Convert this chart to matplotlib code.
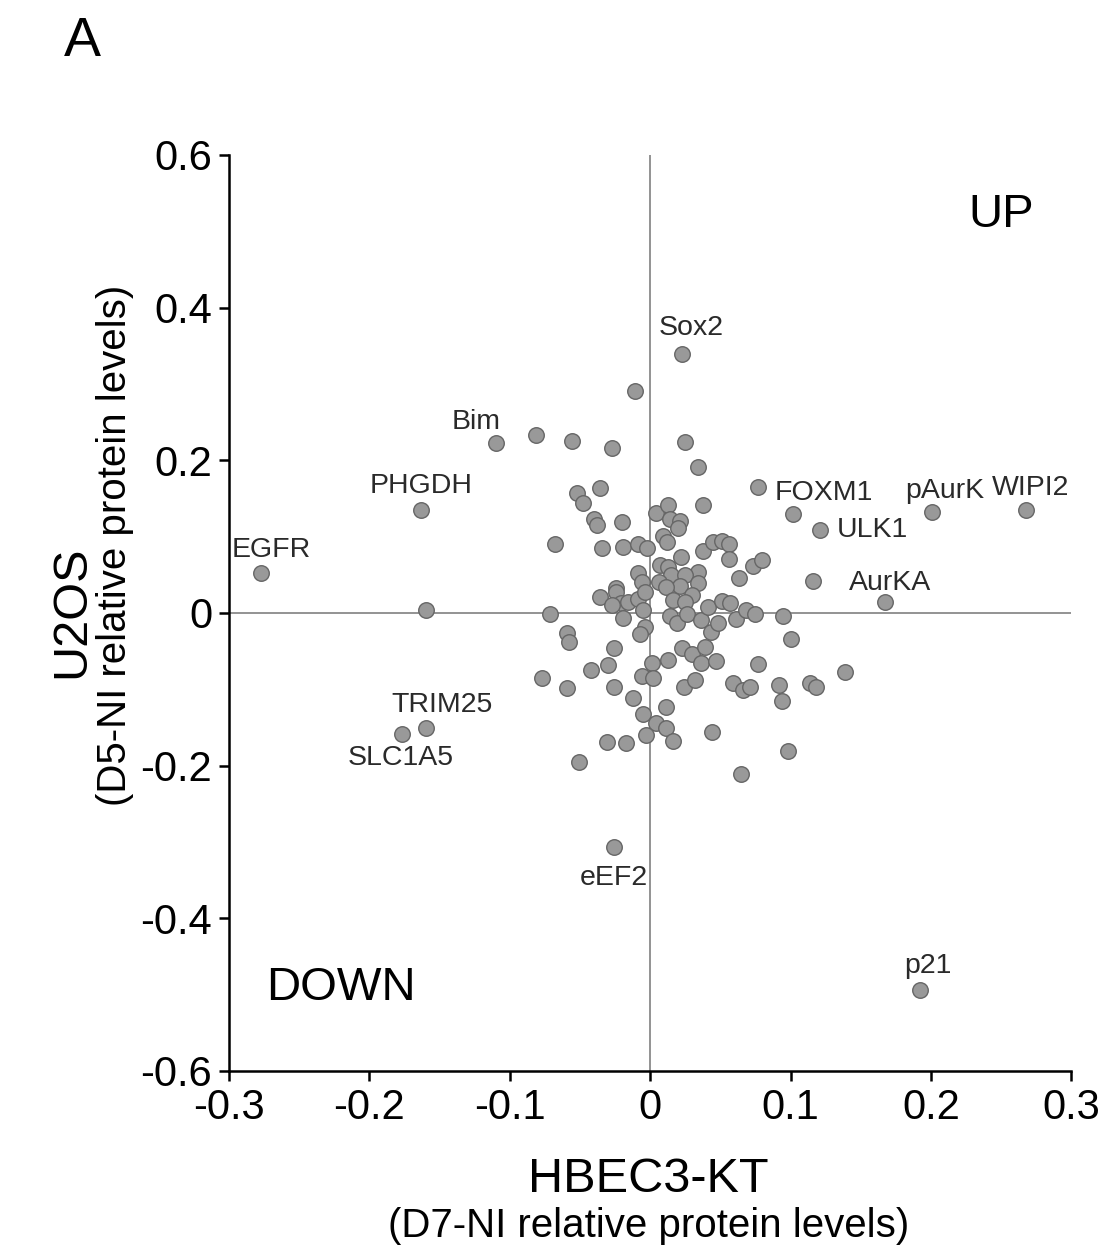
import matplotlib
matplotlib.use("Agg")
import matplotlib.pyplot as plt

plt.rcParams['font.family'] = ['Liberation Sans', 'DejaVu Sans']

# relative protein levels: HBEC3-KT (x) vs U2OS (y)
labels = ['Sox2', 'Bim', 'PHGDH', 'EGFR', 'TRIM25', 'SLC1A5', 'eEF2', 'p21',
          'FOXM1', 'ULK1', 'AurKA', 'pAurK', 'WIPI2']
label_x = [0.023, -0.110, -0.163, -0.277, -0.160, -0.177, -0.026, 0.192,
           0.077, 0.121, 0.167, 0.201, 0.268]
label_y = [0.339, 0.223, 0.135, 0.052, -0.151, -0.159, -0.307, -0.494,
           0.165, 0.109, 0.014, 0.132, 0.135]
# text offsets (points) for each named protein
label_dx = [6, -14, 0, 7, 12, -1, 0, 6, 12, 12, 4, 9, 3]
label_dy = [19, 15, 17, 17, 17, -17, -22, 17, -4, 0, 14, 15, 16]
label_ha = ['center', 'center', 'center', 'center', 'center', 'center', 'center',
            'center', 'left', 'left', 'center', 'center', 'center']

other_x = [-0.011, -0.081, -0.056, -0.027, 0.025, 0.034, -0.036, -0.052, -0.048,
           -0.020, -0.040, -0.038, -0.068, -0.034, -0.019, -0.009, -0.002, 0.004,
           0.013, 0.014, 0.021, 0.020, 0.009, 0.012, 0.022, 0.038, 0.038, 0.045,
           0.051, 0.056, 0.056, 0.073, 0.080, 0.063, 0.116, 0.034, 0.102, -0.009,
           -0.006, 0.007, 0.013, 0.015, 0.025, 0.034, 0.006, 0.021, -0.024, -0.036,
           -0.024, -0.021, -0.016, -0.009, -0.027, -0.019, -0.005, -0.004, 0.011,
           0.030, 0.016, 0.025, 0.014, 0.019, 0.026, 0.036, 0.041, 0.051, 0.057,
           0.043, 0.048, 0.061, 0.068, 0.075, 0.095, 0.100, -0.071, -0.004, -0.007,
           -0.059, -0.058, -0.026, -0.030, -0.042, -0.077, -0.059, -0.026, 0.001,
           0.013, 0.023, 0.030, 0.036, 0.039, 0.047, -0.006, 0.002, 0.024, 0.032,
           -0.012, 0.011, -0.005, 0.004, 0.011, -0.003, 0.016, 0.044, -0.031,
           -0.017, -0.051, 0.077, 0.059, 0.066, 0.071, 0.092, 0.094, 0.114, 0.118,
           0.139, 0.098, 0.065, -0.160]
other_y = [0.291, 0.233, 0.225, 0.216, 0.224, 0.191, 0.164, 0.157, 0.144,
           0.119, 0.123, 0.115, 0.090, 0.085, 0.086, 0.090, 0.085, 0.131,
           0.141, 0.123, 0.121, 0.111, 0.101, 0.093, 0.073, 0.141, 0.081, 0.093,
           0.094, 0.090, 0.071, 0.062, 0.069, 0.046, 0.042, 0.054, 0.130, 0.052,
           0.041, 0.063, 0.060, 0.050, 0.050, 0.039, 0.041, 0.035, 0.033, 0.021,
           0.028, 0.013, 0.014, 0.018, 0.010, -0.007, 0.004, 0.028, 0.034,
           0.024, 0.017, 0.014, -0.004, -0.013, -0.001, -0.009, 0.008, 0.016, 0.013,
           -0.025, -0.013, -0.008, 0.004, -0.001, -0.004, -0.034, -0.001, -0.018, -0.028,
           -0.026, -0.038, -0.046, -0.068, -0.075, -0.085, -0.098, -0.097, -0.066,
           -0.062, -0.046, -0.054, -0.066, -0.045, -0.063, -0.083, -0.085, -0.097, -0.088,
           -0.111, -0.123, -0.132, -0.144, -0.151, -0.160, -0.168, -0.156, -0.169,
           -0.170, -0.195, -0.067, -0.092, -0.101, -0.097, -0.094, -0.115, -0.092, -0.097,
           -0.077, -0.181, -0.211, 0.004]

xticks = [-0.3, -0.2, -0.1, 0, 0.1, 0.2, 0.3]
yticks = [-0.6, -0.4, -0.2, 0, 0.2, 0.4, 0.6]

fig = plt.figure(figsize=(11.01, 12.52), dpi=100)
ax = fig.add_axes([0.208, 0.1446, 0.765, 0.7316])

ax.axhline(0, color='#8a8a8a', lw=1.3, zorder=1)
ax.axvline(0, color='#8a8a8a', lw=1.3, zorder=1)

ax.scatter(other_x + label_x, other_y + label_y, s=125, color='#999999',
           edgecolors='#666666', linewidths=1.0, zorder=3)

for name, x, y, dx, dy, ha in zip(labels, label_x, label_y, label_dx, label_dy, label_ha):
    ax.annotate(name, (x, y), xytext=(dx, dy), textcoords='offset points',
                ha=ha, va='center', fontsize=20.5, color='#2a2a2a')

ax.text(0.25, 0.521, 'UP', ha='center', va='center', fontsize=34)
ax.text(-0.22, -0.491, 'DOWN', ha='center', va='center', fontsize=34)

ax.set_xlim(-0.3, 0.3)
ax.set_ylim(-0.6, 0.6)
ax.set_xticks(xticks)
ax.set_yticks(yticks)
ax.set_xticklabels(['-0.3', '-0.2', '-0.1', '0', '0.1', '0.2', '0.3'])
ax.set_yticklabels(['-0.6', '-0.4', '-0.2', '0', '0.2', '0.4', '0.6'])
ax.tick_params(direction='out', length=7, width=1.8, labelsize=30, pad=5)
for side in ['top', 'right']:
    ax.spines[side].set_visible(False)
for side in ['left', 'bottom']:
    ax.spines[side].set_linewidth(1.8)

fig.text(0.589, 1 - 1180 / 1252, 'HBEC3-KT', ha='center', va='center', fontsize=35)
fig.text(0.589, 1 - 1226 / 1252, '(D7-NI relative protein levels)', ha='center',
         va='center', fontsize=29)
fig.text(72 / 1101, 1 - 612 / 1252, 'U2OS', ha='center', va='center',
         rotation=90, fontsize=35)
fig.text(115 / 1101, 1 - 545 / 1252, '(D5-NI relative protein levels)', ha='center',
         va='center', rotation=90, fontsize=29)
fig.text(82 / 1101, 1 - 42 / 1252, 'A', ha='center', va='center', fontsize=40)

fig.savefig('out.png', dpi=100)
